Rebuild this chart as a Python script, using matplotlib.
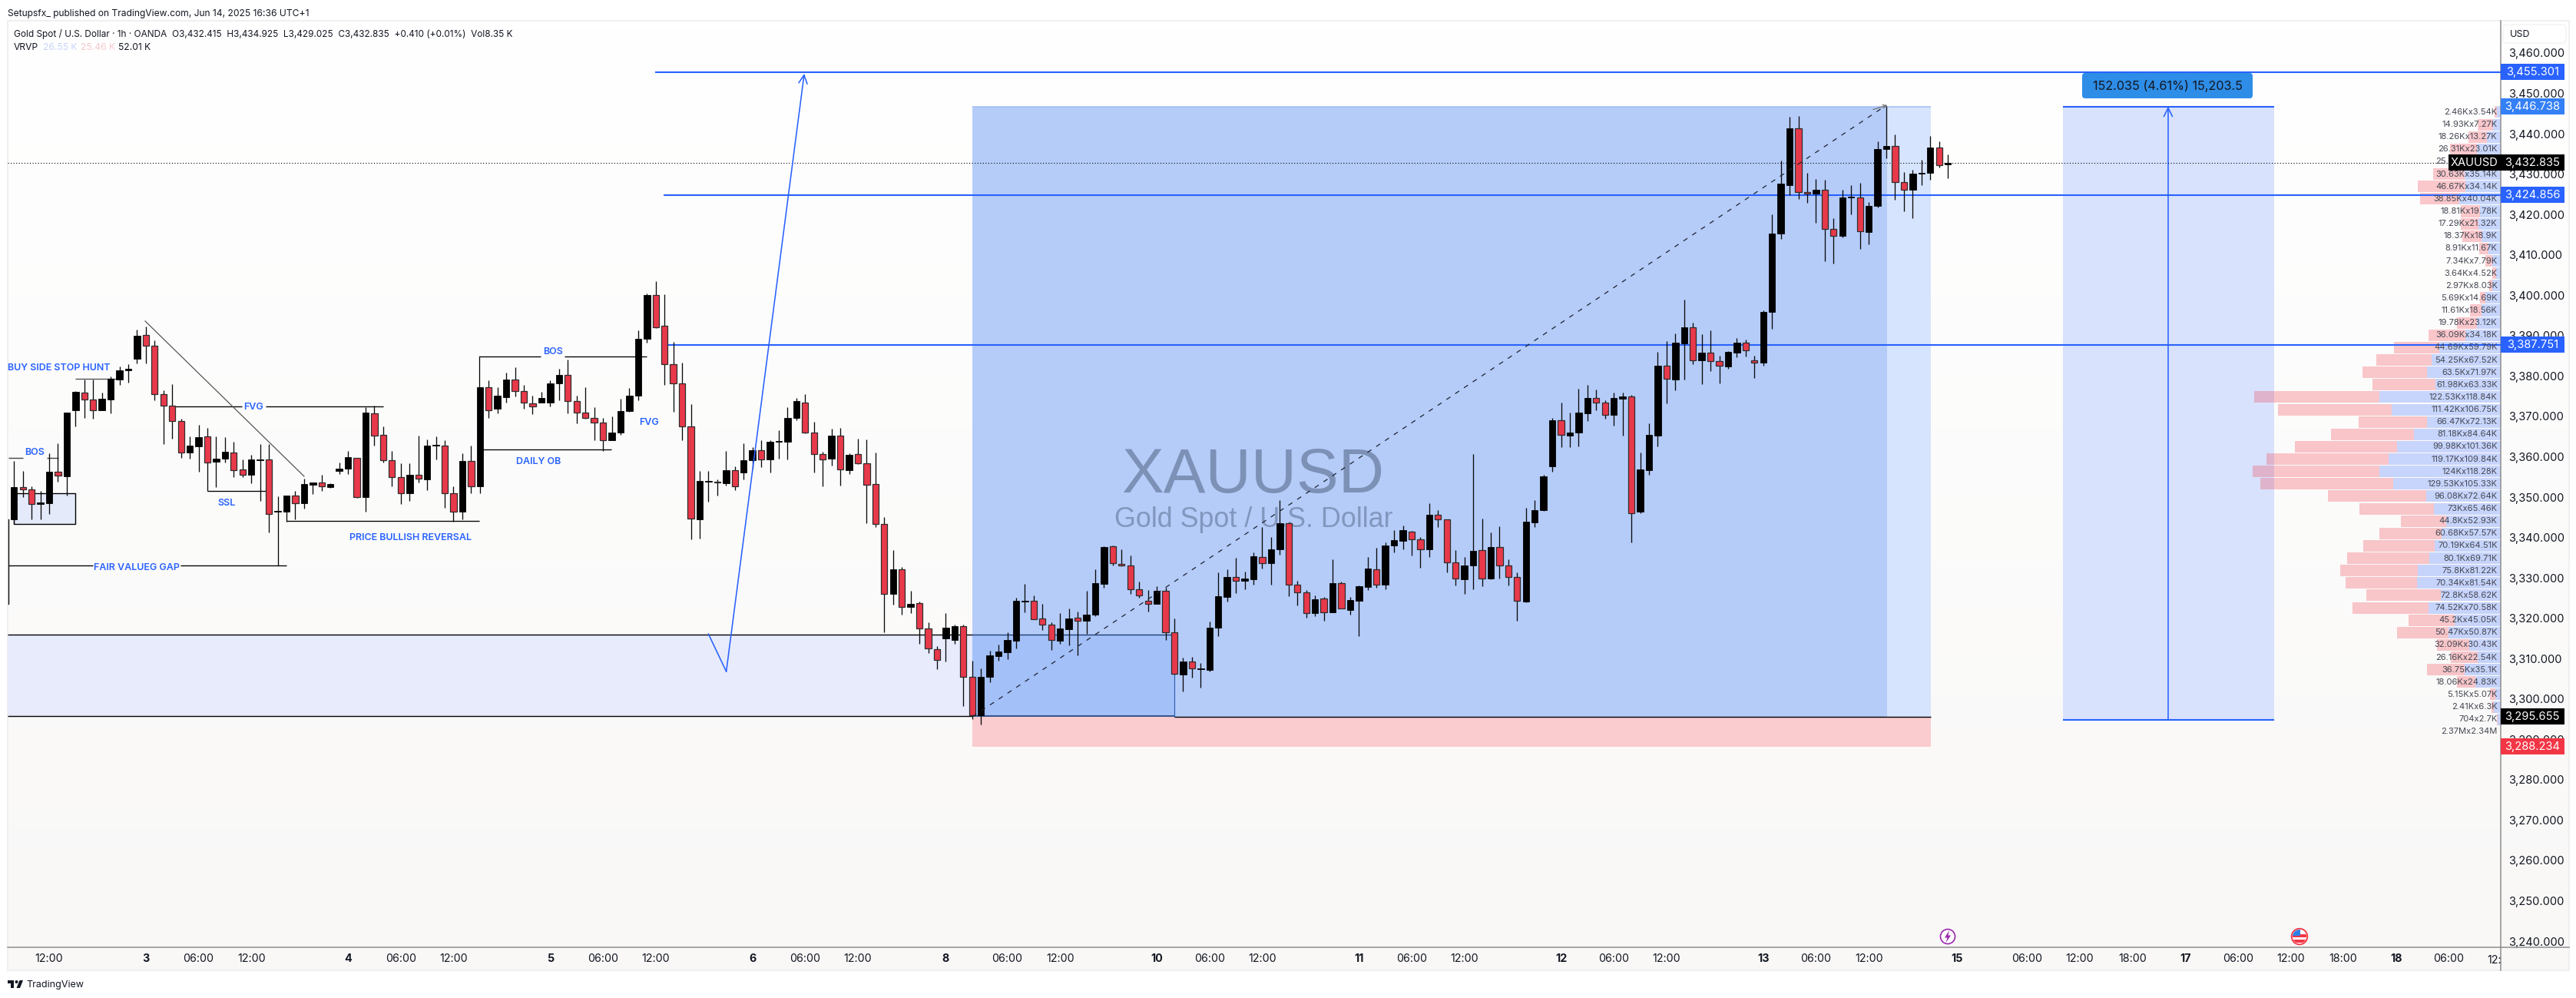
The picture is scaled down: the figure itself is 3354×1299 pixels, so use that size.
import matplotlib
matplotlib.use("Agg")
import matplotlib.pyplot as plt
import numpy as np
from matplotlib.lines import Line2D
from matplotlib.patches import Rectangle, Circle, Polygon, FancyBboxPatch
from matplotlib.transforms import Bbox

plt.rcParams['font.family'] = ['Inter', 'DejaVu Sans']

# hourly candles
opens = [3344.4,3352.4,3352.0,3348.2,3348.5,3356.2,3355.2,3371.5,3375.8,3374.1,
 3371.6,3374.2,3379.1,3381.5,3384.3,3390.1,3387.4,3375.6,3372.6,3368.8,
 3361.0,3362.6,3365.0,3358.8,3359.6,3361.0,3356.8,3355.5,3359.2,3359.3,
 3346.4,3346.3,3350.3,3348.4,3353.1,3353.6,3352.5,3356.5,3357.1,3359.8,
 3350.1,3370.7,3365.5,3359.1,3354.9,3351.0,3355.6,3354.4,3362.7,3362.7,
 3350.9,3346.4,3358.9,3352.6,3377.3,3371.8,3374.8,3379.2,3376.2,3373.3,
 3373.5,3373.5,3378.1,3380.2,3373.7,3370.9,3369.7,3368.4,3364.1,3365.9,
 3371.3,3375.1,3389.2,3400.0,3392.4,3383.0,3378.1,3367.6,3344.5,3353.9,
 3353.9,3353.5,3356.6,3356.1,3359.1,3361.7,3359.4,3363.8,3363.8,3369.7,
 3373.5,3365.9,3360.6,3359.5,3365.3,3356.7,3360.6,3358.3,3353.2,3343.3,
 3326.1,3332.1,3322.7,3323.7,3317.4,3312.3,3314.9,3314.7,3318.0,3305.4,
 3296.0,3305.4,3310.7,3311.6,3314.4,3324.2,3324.3,3319.9,3318.5,3314.4,
 3317.3,3320.1,3319.3,3320.8,3328.5,3337.8,3333.5,3333.0,3327.1,3324.3,
 3323.6,3326.7,3316.6,3306.1,3309.2,3307.3,3307.2,3317.7,3325.3,3330.2,
 3329.3,3329.7,3335.2,3333.7,3337.1,3343.5,3328.4,3326.5,3321.2,3324.8,
 3321.5,3328.6,3322.1,3324.4,3327.8,3332.2,3328.4,3338.1,3339.2,3341.5,
 3339.6,3337.1,3345.6,3344.4,3333.8,3329.7,3333.0,3336.8,3329.8,3337.6,
 3333.1,3330.3,3324.2,3343.8,3346.7,3357.7,3369.0,3365.3,3365.9,3370.8,
 3374.5,3373.4,3370.3,3374.4,3374.9,3346.3,3356.7,3365.3,3382.6,3379.2,
 3388.1,3392.0,3383.8,3385.7,3383.6,3382.4,3385.7,3388.2,3383.8,3383.4,
 3395.8,3415.2,3427.3,3441.4,3425.5,3425.2,3426.1,3416.4,3414.8,3424.2,
 3424.2,3415.7,3422.2,3436.3,3436.9,3428.0,3426.2,3430.2,3430.4,3436.5,
 3432.415]
highs = [3358.9,3356.4,3352.6,3351.5,3360.8,3363.4,3371.0,3376.2,3379.2,3379.2,
 3375.8,3379.9,3382.3,3382.9,3391.5,3392.2,3388.8,3376.4,3378.0,3369.5,
 3365.1,3367.8,3367.1,3365.0,3364.8,3363.7,3359.3,3360.4,3363.2,3363.2,
 3350.2,3350.3,3351.5,3354.5,3353.7,3355.5,3353.4,3358.6,3361.5,3359.8,
 3372.3,3372.6,3367.5,3361.5,3358.3,3358.3,3365.2,3364.2,3365.0,3364.0,
 3352.6,3360.8,3362.7,3377.3,3378.9,3377.3,3380.8,3382.1,3377.7,3375.1,
 3376.1,3378.9,3381.8,3384.1,3375.2,3377.3,3372.3,3369.7,3370.0,3374.3,
 3377.0,3391.3,3400.4,3403.5,3400.2,3388.4,3383.4,3373.0,3356.4,3356.4,
 3354.4,3361.5,3357.7,3363.4,3362.4,3364.0,3364.0,3366.6,3372.3,3374.5,
 3375.6,3368.6,3361.3,3366.9,3367.2,3360.9,3364.5,3364.3,3361.0,3345.0,
 3336.9,3332.6,3326.7,3324.1,3319.0,3313.0,3321.2,3318.5,3318.4,3309.5,
 3307.6,3312.0,3313.5,3316.5,3325.0,3328.5,3325.7,3323.6,3319.0,3321.2,
 3322.4,3321.7,3326.8,3332.1,3337.8,3338.1,3337.1,3335.5,3329.1,3326.9,
 3327.9,3327.6,3320.0,3310.2,3310.4,3308.9,3319.1,3331.4,3332.1,3335.0,
 3331.6,3336.3,3342.5,3340.2,3349.3,3343.7,3329.3,3326.9,3325.7,3325.3,
 3334.5,3329.0,3325.3,3328.2,3335.2,3337.4,3338.7,3341.8,3343.0,3341.7,
 3340.2,3348.5,3346.7,3344.5,3336.8,3335.2,3360.7,3344.7,3341.2,3342.8,
 3334.5,3331.4,3347.3,3349.3,3355.5,3369.7,3373.5,3371.0,3376.8,3377.8,
 3376.6,3373.9,3375.8,3375.9,3375.3,3361.0,3368.2,3385.9,3388.6,3390.5,
 3398.9,3393.2,3390.4,3391.3,3385.0,3386.2,3389.4,3389.0,3385.0,3396.2,
 3420.0,3433.4,3444.2,3444.4,3430.3,3428.8,3428.6,3419.1,3426.1,3427.3,
 3427.9,3423.0,3438.1,3446.8,3439.8,3430.5,3431.1,3433.5,3439.5,3438.1,
 3434.925]
lows = [3343.4,3350.1,3344.5,3344.5,3345.9,3353.9,3350.4,3367.5,3369.7,3369.4,
 3371.5,3370.7,3377.8,3378.3,3383.2,3383.2,3373.9,3363.2,3364.5,3359.8,
 3359.5,3356.3,3351.5,3352.5,3358.6,3355.0,3355.0,3353.5,3349.1,3341.2,
 3333.1,3344.0,3344.5,3347.2,3350.7,3351.5,3352.3,3355.8,3355.8,3349.9,
 3346.4,3362.7,3358.5,3352.6,3348.2,3349.1,3353.6,3351.8,3359.3,3347.3,
 3343.9,3344.4,3351.0,3351.0,3369.7,3370.8,3373.4,3375.0,3371.9,3370.6,
 3373.4,3372.4,3373.9,3370.7,3368.3,3369.5,3364.0,3361.4,3364.0,3365.4,
 3371.1,3374.0,3388.2,3391.8,3377.7,3371.1,3364.0,3339.5,3339.7,3348.9,
 3350.4,3352.9,3351.8,3354.3,3357.0,3357.5,3356.1,3359.6,3359.4,3369.1,
 3365.8,3356.1,3352.7,3357.9,3352.9,3355.8,3358.2,3343.5,3342.5,3316.5,
 3323.4,3320.9,3321.3,3313.7,3311.4,3307.3,3309.2,3313.6,3298.3,3295.1,
 3293.6,3304.2,3309.4,3309.8,3312.5,3321.5,3319.7,3317.0,3312.2,3313.6,
 3313.2,3310.9,3316.1,3320.5,3327.6,3333.0,3332.8,3326.0,3325.0,3321.7,
 3323.6,3314.7,3306.1,3301.9,3305.2,3302.8,3306.9,3315.6,3324.2,3326.3,
 3327.1,3328.4,3332.3,3328.4,3335.8,3325.5,3323.1,3320.1,3320.6,3319.4,
 3321.4,3322.4,3320.8,3315.6,3326.9,3327.6,3327.2,3336.4,3337.0,3335.5,
 3332.5,3335.2,3342.6,3331.4,3328.2,3326.1,3327.2,3328.0,3329.6,3329.8,
 3328.2,3319.4,3323.9,3342.5,3346.6,3356.3,3362.4,3362.3,3362.6,3368.9,
 3371.5,3369.4,3367.7,3365.3,3338.7,3346.1,3355.6,3362.6,3373.2,3376.5,
 3379.1,3382.9,3377.9,3381.2,3378.2,3381.8,3384.7,3384.8,3379.5,3382.6,
 3391.7,3414.0,3424.8,3423.9,3422.9,3418.0,3408.4,3407.9,3414.3,3420.0,
 3411.5,3412.6,3421.8,3433.9,3423.7,3420.8,3419.1,3427.3,3428.6,3431.7,
 3429.025]
closes = [3352.4,3352.0,3348.2,3348.6,3356.2,3355.3,3370.9,3376.1,3374.1,3371.6,
 3374.4,3379.3,3381.5,3381.8,3390.0,3387.4,3375.6,3372.6,3368.8,3361.0,
 3362.7,3364.8,3358.6,3359.6,3361.2,3356.7,3355.5,3359.3,3359.3,3345.9,
 3346.5,3350.3,3348.4,3353.2,3353.6,3352.6,3353.2,3357.0,3359.9,3350.1,
 3370.9,3365.3,3359.1,3354.9,3350.9,3355.6,3354.5,3362.7,3362.9,3350.9,
 3346.4,3358.9,3352.6,3377.3,3371.6,3375.1,3379.1,3376.2,3373.5,3372.4,
 3374.5,3378.2,3380.2,3373.7,3370.9,3369.7,3368.4,3364.1,3365.9,3371.3,
 3375.2,3389.3,3400.0,3392.0,3383.0,3378.1,3367.6,3344.6,3354.0,3354.0,
 3353.6,3356.7,3352.6,3359.1,3361.7,3359.4,3363.8,3363.9,3369.7,3373.7,
 3365.9,3360.6,3359.4,3365.2,3356.8,3360.4,3358.3,3353.1,3343.3,3326.1,
 3332.1,3322.7,3323.6,3317.4,3312.5,3309.7,3317.6,3318.0,3305.4,3296.0,
 3305.4,3310.8,3311.7,3314.6,3324.3,3324.3,3319.8,3318.5,3314.6,3317.4,
 3319.9,3319.3,3320.8,3328.6,3337.6,3333.6,3333.0,3327.1,3325.6,3323.5,
 3326.7,3316.6,3306.2,3309.3,3307.5,3307.5,3317.6,3325.4,3330.2,3329.3,
 3329.8,3335.3,3333.7,3337.0,3343.5,3328.4,3326.5,3321.2,3324.7,3321.5,
 3328.6,3322.5,3324.5,3327.9,3332.4,3328.4,3338.1,3339.3,3341.8,3339.6,
 3337.1,3345.6,3344.4,3333.8,3329.8,3333.1,3336.6,3329.8,3337.6,3333.0,
 3330.3,3324.3,3343.9,3346.7,3355.1,3369.0,3365.4,3365.9,3370.9,3374.5,
 3373.4,3370.3,3374.5,3374.9,3346.1,3356.8,3365.4,3382.5,3379.3,3388.3,
 3392.1,3383.8,3385.7,3383.6,3382.5,3385.9,3388.2,3386.4,3383.4,3395.9,
 3415.2,3427.7,3441.4,3425.5,3425.1,3426.1,3416.4,3414.8,3424.2,3424.4,
 3415.8,3422.1,3436.3,3437.0,3428.0,3426.2,3430.1,3430.3,3436.5,3432.3,
 3432.835]

# volume profile rows, top to bottom, in K
sell_vol = [2.46,14.93,18.26,26.31,25.46,30.63,46.67,38.85,18.81,17.29,18.37,8.91,7.34,
 3.64,2.97,5.69,11.61,19.78,36.09,44.69,54.25,63.5,61.98,122.53,111.42,66.47,81.18,
 99.98,119.17,124,129.53,96.08,73,44.8,60.68,70.19,80.1,75.8,70.34,72.8,74.52,45.2,
 50.47,32.09,26.16,36.75,18.06,5.15,2.41,0.704]
buy_vol = [3.54,7.27,13.27,23.01,24.21,35.14,34.14,40.04,19.78,21.32,18.9,11.67,7.79,
 4.52,8.03,14.69,18.56,23.12,34.18,59.79,67.52,71.97,63.33,118.84,106.75,72.13,84.64,
 101.36,109.84,118.28,105.33,72.64,65.46,52.93,57.57,64.51,69.71,81.22,81.54,58.62,70.58,45.05,
 50.87,30.43,22.54,35.1,24.83,5.07,6.3,2.7]

price_ticks = list(range(3240, 3470, 10))
time_ticks = [4, 15, 21, 27, 38, 44, 50, 61, 67, 73, 84, 90, 96, 106, 113, 119, 130, 136, 142,
 153, 159, 165, 176, 182, 188, 199, 205, 211, 221, 229, 235, 241, 247, 253, 259, 265, 271, 277]
time_labels = ['12:00', '3', '06:00', '12:00', '4', '06:00', '12:00', '5', '06:00', '12:00',
 '6', '06:00', '12:00', '8', '06:00', '12:00', '10', '06:00', '12:00', '11', '06:00', '12:00',
 '12', '06:00', '12:00', '13', '06:00', '12:00', '15', '06:00', '12:00', '18:00', '17', '06:00',
 '12:00', '18:00', '18', '06:00']

BLUE = '#2962ff'
W, H = 3355, 1299
LEFT, RIGHT, TOP, BOTTOM = 10, 3255.7, 27, 1232.7

opens = np.array(opens)
highs = np.array(highs)
lows = np.array(lows)
closes = np.array(closes)
x = np.arange(len(opens))

fig = plt.figure(figsize=(W / 100, H / 100), dpi=100, facecolor='white')

# panel background, goes very slightly warm toward the bottom
bg = fig.add_axes([LEFT / W, 1 - 1263 / H, (3345 - LEFT) / W, (1263 - TOP) / H], zorder=0)
grad = np.linspace(0, 1, 64)[:, None, None] * (np.array([249, 248, 247]) - 255) + 255
bg.imshow(grad / 255, aspect='auto', interpolation='bilinear')
bg.set_xticks([])
bg.set_yticks([])
for s in bg.spines.values():
    s.set_color('#f0f0f2')
    s.set_linewidth(1.5)

ax = fig.add_axes([LEFT / W, 1 - BOTTOM / H, (RIGHT - LEFT) / W, (BOTTOM - TOP) / H], zorder=1)
ax.patch.set_alpha(0)
xl, xr = -0.72, 282.87
ax.set_xlim(xl, xr)
ax.set_ylim(3238.55, 3467.99)

for s in ['top', 'left']:
    ax.spines[s].set_visible(False)
for s in ['right', 'bottom']:
    ax.spines[s].set_color('#8e8e8e')
    ax.spines[s].set_linewidth(1.1)

ax.yaxis.tick_right()
ax.set_yticks(price_ticks)
ax.set_yticklabels([f'{p:,.3f}' for p in price_ticks], fontsize=10.6, color='#131722')
ax.tick_params(axis='y', length=0, pad=7.5)
ax.set_xticks(time_ticks)
ax.set_xticklabels(time_labels, fontsize=10.3, color='#131722')
ax.tick_params(axis='x', length=0, pad=6.3)
for lab, txt in zip(ax.get_xticklabels(), time_labels):
    if ':' not in txt:
        lab.set_fontweight('bold')


def box(x0, x1, p0, p1, color, z=1):
    ax.add_patch(Rectangle((x0, p0), x1 - x0, p1 - p0, facecolor=color, edgecolor='none', zorder=z))


def hline(x0, x1, p, color='black', lw=0.95, z=5):
    ax.plot([x0, x1], [p, p], color=color, lw=lw, zorder=z, solid_capstyle='butt')


def note(x0, p, txt, ha='center'):
    ax.text(x0, p, txt, color=BLUE, fontsize=9, fontweight='semibold', ha=ha, va='center', zorder=9)


# zones
box(xl, 109.03, 3295.8, 3315.95, '#e7ebfb')
box(109.03, 213.09, 3295.6, 3446.74, '#b5ccf9')
box(213.09, 218.07, 3295.6, 3446.74, '#d7e4fd')
box(109.03, 132, 3295.6, 3315.95, '#a3c0f8', z=1.2)
box(109.03, 218.07, 3288.234, 3295.6, '#facbcf')
box(233.1, 257.1, 3294.9, 3446.74, '#d8e2fd')

# watermark
ax.text(140.9, 3355.1, 'XAUUSD', fontsize=59, family='Liberation Sans', color='#2a3a55', alpha=0.4,
        ha='center', va='center', zorder=1.5)
ax.text(141, 3344.3, 'Gold Spot / U.S. Dollar', fontsize=25.8, family='Liberation Sans', color='#2a3a55',
        alpha=0.36, ha='center', va='center', zorder=1.5)

# volume profile, growing left from the price axis
vol_scale = 1.33 / 11.445
row_prices = 3445.35 - 3.069 * np.arange(len(sell_vol))
buy_w = np.array(buy_vol) * vol_scale
sell_w = np.array(sell_vol) * vol_scale
ax.barh(row_prices, -buy_w, left=xr, height=2.86, color=BLUE, alpha=0.25, zorder=2.2)
ax.barh(row_prices, -sell_w, left=xr - buy_w, height=2.86, color='#f23645', alpha=0.27, zorder=2.2)
for p, s, b in zip(row_prices, sell_vol, buy_vol):
    left_txt = f'{int(s * 1000)}' if s < 1 else f'{s:g}K'
    ax.text(xr - 0.35, p, f'{left_txt}x{b:g}K', fontsize=8, color='#434651', ha='right', va='center', zorder=8)
ax.text(xr - 0.35, row_prices[-1] - 3.069, '2.37Mx2.34M', fontsize=8, color='#434651', ha='right', va='center', zorder=8)

# levels
hline(72.94, xr, 3455.301, BLUE, 1.5, 3)
hline(73.9, xr, 3424.856, BLUE, 1.5, 3)
hline(74.43, xr, 3387.751, BLUE, 1.5, 3)
hline(xl, xr, 3432.835, 'black', 0.8, 5)
ax.lines[-1].set_linestyle((0, (1, 2.2)))

hline(xl, 109.03, 3315.95, 'black', 1.0, 3)
hline(109.03, 132, 3315.95, '#1f3f75', 1.0, 3)
hline(xl, 109.03, 3295.8, 'black', 1.0, 3)
hline(109.03, 132, 3295.7, '#1f3f75', 1.2, 3)
hline(132, 218.07, 3295.6, 'black', 1.0, 3)
ax.plot([132, 132], [3295.6, 3315.95], color='#2a5bb0', lw=0.8, zorder=3)
hline(109.03, 218.07, 3446.74, '#a0bcf5', 1.1, 2)
hline(233.1, 257.1, 3446.74, BLUE, 1.5, 3)
hline(233.1, 257.1, 3294.9, BLUE, 1.5, 3)

# candles
up = closes >= opens
ax.vlines(x, lows, highs, color='#0a0a0a', lw=0.95, zorder=6)
ax.bar(x[up], (closes - opens)[up], bottom=opens[up], width=0.74, color='black', edgecolor='black', lw=0.6, zorder=7)
ax.bar(x[~up], (closes - opens)[~up], bottom=opens[~up], width=0.72, color='#e8394a', edgecolor='#2e2e2e', lw=0.9, zorder=7)

# hand drawn tools from the original chart
ax.plot([109.03, 213], [3295.6, 3447.06], color='#1c2230', lw=0.9, ls=(0, (5, 6)), zorder=8)
ax.annotate('', xy=(213.09, 3447.06), xytext=(211.5, 3446.0),
            arrowprops=dict(arrowstyle='->', color='#666666', lw=0.8, mutation_scale=8, shrinkA=0, shrinkB=0), zorder=8)

ax.plot([79.0, 81.03], [3316.1, 3306.8], color=BLUE, lw=1.15, zorder=8)
ax.annotate('', xy=(89.9, 3454.9), xytext=(81.03, 3306.8),
            arrowprops=dict(arrowstyle='->', color=BLUE, lw=1.15, mutation_scale=20, shrinkA=0, shrinkB=0), zorder=8)
ax.annotate('', xy=(245.06, 3446.74), xytext=(245.06, 3294.9),
            arrowprops=dict(arrowstyle='->', color=BLUE, lw=1.15, mutation_scale=20, shrinkA=0, shrinkB=0), zorder=4)

ax.plot([14.92, 33.0], [3393.6, 3355.15], color='#555555', lw=0.9, zorder=8)

# structure lines and labels
ax.add_patch(Rectangle((-0.02, 3343.35), 6.99, 7.61, facecolor='#e5eafb', edgecolor='black', lw=1.0, zorder=2))
hline(-0.63, 1.03, 3359.7, '#444444', 1.0)
hline(3.74, 5.05, 3359.7, '#444444', 1.0)
hline(6.97, 12.04, 3379.3, '#555555', 1.0)
hline(17.98, 25.9, 3372.5)
hline(28.64, 42.0, 3372.5)
hline(22.0, 29.08, 3351.5)
hline(31.0, 52.93, 3344.1)
hline(-0.63, 8.98, 3333.1)
hline(18.94, 31.0, 3333.1)
ax.plot([-0.63, -0.63], [3323.6, 3344.5], color='black', lw=0.95, zorder=5)
hline(52.93, 59.92, 3384.8)
hline(62.63, 71.98, 3384.8)
ax.plot([52.93, 52.93], [3377.4, 3384.8], color='black', lw=0.9, zorder=5)
hline(53.28, 67.96, 3361.8)

note(-0.72, 3382.0, 'BUY SIDE STOP HUNT', ha='left')
note(2.34, 3361.05, 'BOS')
note(27.24, 3372.2, 'FVG')
note(24.18, 3348.5, 'SSL')
note(45.07, 3339.9, 'PRICE BULLISH REVERSAL')
note(13.92, 3332.5, 'FAIR VALUEG GAP')
note(61.3, 3386.0, 'BOS')
note(59.7, 3358.8, 'DAILY OB')
note(72.24, 3368.5, 'FVG')

# price tags on the axis
trans = ax.get_yaxis_transform()
tag_w = 83 / (RIGHT - LEFT)
tag_levels = [3455.301, 3446.738, 3432.835, 3424.856, 3387.751, 3295.655, 3288.234]
tag_colors = [BLUE, '#3480f6', 'black', BLUE, BLUE, 'black', '#f23645']
for p, c in zip(tag_levels, tag_colors):
    ax.add_patch(Rectangle((1, p - 1.98), tag_w, 3.96, transform=trans, facecolor=c, edgecolor='none',
                           clip_on=False, zorder=20))
    ax.text(1 + 41.5 / (RIGHT - LEFT), p, f'{p:,.3f}', transform=trans, color='white', fontsize=10.6,
            ha='center', va='center', clip_on=False, zorder=21)
sym_w = (RIGHT - 3188) / (RIGHT - LEFT)
ax.add_patch(Rectangle((1 - sym_w, 3432.835 - 1.98), sym_w, 3.96, transform=trans, facecolor='black',
                       edgecolor='none', clip_on=False, zorder=20))
ax.text(1 - sym_w / 2, 3432.835, 'XAUUSD', transform=trans, color='white', fontsize=10.6, ha='center',
        va='center', clip_on=False, zorder=21)

# page furniture drawn in image pixels
chrome = fig.add_axes([0, 0, 1, 1], zorder=5)
chrome.set_xlim(0, W)
chrome.set_ylim(H, 0)
chrome.axis('off')
chrome.patch.set_alpha(0)

chrome.add_line(Line2D([RIGHT, RIGHT], [BOTTOM, 1263], color='#8e8e8e', lw=1.1))
chrome.add_line(Line2D([RIGHT, 3345], [BOTTOM, BOTTOM], color='#8e8e8e', lw=1.1))

chrome.text(10, 17.5, 'Setupsfx_ published on TradingView.com, Jun 14, 2025 16:36 UTC+1', fontsize=8.7,
            color='#131722', va='center')
chrome.text(18, 44.5, 'Gold Spot / U.S. Dollar · 1h · OANDA  O3,432.415  H3,434.925  L3,429.025  C3,432.835  '
            '+0.410 (+0.01%)  Vol8.35 K', fontsize=8.5, color='#131722', va='center')
chrome.text(18, 61.5, 'VRVP', fontsize=8.7, color='#131722', va='center')
chrome.text(56, 61.5, '26.55 K', fontsize=8.7, color='#c8d5f9', va='center')
chrome.text(105, 61.5, '25.46 K', fontsize=8.7, color='#f7c8cc', va='center')
chrome.text(154, 61.5, '52.01 K', fontsize=8.7, color='#131722', va='center')

chrome.add_patch(FancyBboxPatch((3262, 35), 76, 18, boxstyle='round,pad=3,rounding_size=5', facecolor='white',
                                edgecolor='#efefef', lw=0.8))
chrome.text(3268, 44.5, 'USD', fontsize=9, color='#131722', va='center')

chrome.add_patch(FancyBboxPatch((2714, 98), 216, 27, boxstyle='round,pad=3,rounding_size=4', facecolor='#2e8de6',
                                edgecolor='none'))
chrome.text(2822, 111.5, '152.035 (4.61%) 15,203.5', fontsize=11.7, color='#131722', ha='center', va='center')

# cut off by the price axis
last = chrome.text(3257, 1249.5, '12:00', fontsize=10.3, color='#131722', ha='center', va='center', clip_on=True)
last.set_clip_box(Bbox([[0, 0], [RIGHT, H]]))

# event icons
chrome.add_patch(Circle((2536, 1219), 9.5, facecolor='white', edgecolor='#9c27b0', lw=1.2))
chrome.add_patch(Polygon([(2538, 1211), (2532, 1220.5), (2535.5, 1220.5), (2533.5, 1227), (2540, 1217.5), (2536.5, 1217.5)],
                         facecolor='#9c27b0', edgecolor='none'))
disk = Circle((2994, 1219), 9, transform=chrome.transData)
chrome.add_patch(Circle((2994, 1219), 10.3, facecolor='white', edgecolor='#f23645', lw=1.3))
for y0, c in [(1216, '#f23645'), (1223, '#f23645')]:
    r = Rectangle((2984, y0), 20, 3.6, facecolor=c, edgecolor='none')
    chrome.add_patch(r)
    r.set_clip_path(disk)
r = Rectangle((2984, 1209), 11, 9, facecolor='#2f7fe6', edgecolor='none')
chrome.add_patch(r)
r.set_clip_path(disk)

# TradingView mark
chrome.add_patch(Rectangle((10.5, 1276), 8, 4, facecolor='#131722', edgecolor='none'))
chrome.add_patch(Rectangle((14.5, 1276), 4, 10, facecolor='#131722', edgecolor='none'))
chrome.add_patch(Circle((21.5, 1278), 2, facecolor='#131722', edgecolor='none'))
chrome.add_patch(Polygon([(25.5, 1276), (30, 1276), (26, 1286), (21.5, 1286)], facecolor='#131722', edgecolor='none'))
chrome.text(34, 1282, 'TradingView', fontsize=9, color='#131722', va='center')

fig.savefig('out.png', dpi=100)
